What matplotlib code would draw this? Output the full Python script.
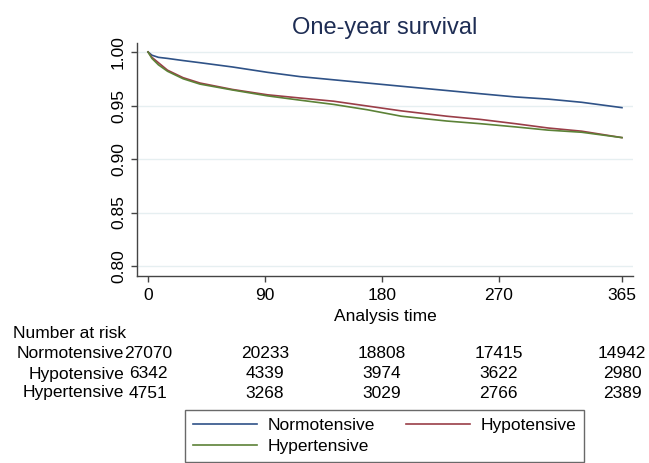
import matplotlib
matplotlib.use('Agg')
import matplotlib.pyplot as plt
from matplotlib.transforms import blended_transform_factory

plt.rcParams['font.family'] = ['Liberation Sans', 'DejaVu Sans']

# ---- data ---- #
days = [0, 3, 8, 15, 27, 40, 65, 92, 117, 143, 169, 195, 230, 256, 283, 308, 334, 365]
normotensive = [1.0, 0.997, 0.995, 0.994, 0.992, 0.990, 0.986, 0.981, 0.977, 0.974,
                0.971, 0.968, 0.964, 0.961, 0.958, 0.956, 0.953, 0.948]
hypotensive = [1.0, 0.995, 0.990, 0.983, 0.976, 0.971, 0.965, 0.960, 0.957, 0.954,
               0.9495, 0.945, 0.940, 0.937, 0.933, 0.929, 0.926, 0.920]
hypertensive = [1.0, 0.994, 0.988, 0.982, 0.975, 0.970, 0.9645, 0.959, 0.955, 0.951,
                0.946, 0.940, 0.9355, 0.933, 0.930, 0.927, 0.925, 0.920]

group_names = ['Normotensive', 'Hypotensive', 'Hypertensive']
risk_times = [0, 90, 180, 270, 365]
risk_normo = [27070, 20233, 18808, 17415, 14942]
risk_hypo = [6342, 4339, 3974, 3622, 2980]
risk_hyper = [4751, 3268, 3029, 2766, 2389]

y_ticks = [0.80, 0.85, 0.90, 0.95, 1.00]

colors = {'Normotensive': '#2f5287', 'Hypotensive': '#9a3e48', 'Hypertensive': '#5c8237'}

W, H = 649, 463
fig = plt.figure(figsize=(W / 100, H / 100), dpi=100)
ax = fig.add_axes([137 / W, 1 - 276 / H, 496 / W, 233 / H])

lines = {}
for name, surv in zip(group_names, [normotensive, hypotensive, hypertensive]):
    lines[name], = ax.plot(days, surv, color=colors[name], lw=1.2, label=name)

ax.set_xlim(-8.5, 373.5)
ax.set_ylim(0.7907, 1.0084)
ax.set_xticks(risk_times)
ax.set_yticks(y_ticks)
ax.set_yticklabels([f'{v:.2f}' for v in y_ticks], rotation=90, va='center')
ax.yaxis.grid(True, color='#e6eff1', lw=1)
ax.set_axisbelow(True)

for s in ['top', 'right']:
    ax.spines[s].set_visible(False)
for s in ['left', 'bottom']:
    ax.spines[s].set_color('#444444')
    ax.spines[s].set_linewidth(1.0)
ax.tick_params(length=4, width=1, color='#444444', labelsize=12.5)
ax.tick_params(axis='x', pad=5)
ax.tick_params(axis='y', pad=4)
ax.set_xlabel('Analysis time', fontsize=12.5, labelpad=4)

fig.text(385 / W, 1 - 28 / H, 'One-year survival', fontsize=17, color='#1e2d54',
         ha='center', va='center')

# ---- number at risk table ---- #
trans = blended_transform_factory(ax.transData, fig.transFigure)
fig.text(13 / W, 1 - 333 / H, 'Number at risk', fontsize=12.5, ha='left', va='center')
row_y = [354, 374, 393]
for name, counts, yy in zip(group_names, [risk_normo, risk_hypo, risk_hyper], row_y):
    fig.text(124 / W, 1 - yy / H, name, fontsize=12.5, ha='right', va='center')
    for t, n in zip(risk_times, counts):
        fig.text(t, 1 - yy / H, str(n), fontsize=12.5, ha='center', va='center',
                 transform=trans)

# ---- legend ---- #
order = ['Normotensive', 'Hypertensive', 'Hypotensive']
leg = fig.legend([lines[n] for n in order], order, ncol=2, loc='upper left',
                 bbox_to_anchor=(185 / W, 1 - 410 / H), fontsize=12.5,
                 frameon=True, fancybox=False, handlelength=3.7, handletextpad=0.6,
                 columnspacing=1.8, labelspacing=0.35, borderpad=0.45,
                 borderaxespad=0)
leg.get_frame().set_edgecolor('#444444')
leg.get_frame().set_linewidth(1.0)

fig.savefig('out.png', dpi=100)
